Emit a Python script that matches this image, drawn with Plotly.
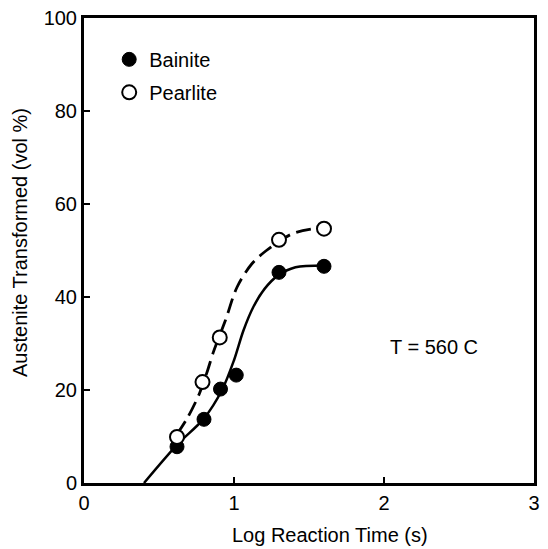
import plotly.graph_objects as go

# Measured data points
bainite_x = [0.62, 0.80, 0.91, 1.015, 1.30, 1.60]
bainite_y = [7.8, 13.7, 20.2, 23.2, 45.3, 46.6]
pearlite_x = [0.62, 0.79, 0.905, 1.30, 1.60]
pearlite_y = [9.9, 21.7, 31.3, 52.3, 54.7]

# Fitted curves
bainite_curve_x = [0.40, 0.62, 0.80, 0.92, 1.00, 1.063, 1.128, 1.205, 1.292, 1.41, 1.60]
bainite_curve_y = [0.0, 8.2, 13.9, 20.0, 26.4, 32.8, 37.8, 41.8, 44.6, 46.4, 46.8]
pearlite_curve_x = [0.62, 0.693, 0.769, 0.824, 0.863, 0.943, 1.02, 1.118, 1.216, 1.39, 1.60]
pearlite_curve_y = [10.5, 14.2, 19.2, 24.2, 28.2, 35.0, 42.1, 47.1, 50.0, 53.6, 55.0]

x_ticks = [0, 1, 2, 3]
y_ticks = [0, 20, 40, 60, 80, 100]

FONT = "Liberation Sans, Arial, sans-serif"

# page has an 8px body margin: figure coords = page coords - 8
W, H = 540, 541
L, R, T, B = 76, 14, 10, 66
PW, PH = W - L - R, H - T - B

fig = go.Figure()
fig.add_trace(go.Scatter(x=bainite_curve_x, y=bainite_curve_y, mode="lines",
                         line=dict(color="black", width=2.5, shape="spline", smoothing=0.9),
                         showlegend=False, hoverinfo="skip"))
fig.add_trace(go.Scatter(x=pearlite_curve_x, y=pearlite_curve_y, mode="lines",
                         line=dict(color="black", width=2.8, shape="spline", smoothing=0.9,
                                   dash="15px,7px"),
                         showlegend=False, hoverinfo="skip"))
fig.add_trace(go.Scatter(x=bainite_x, y=bainite_y, mode="markers", name="Bainite",
                         legendgroup="b",
                         marker=dict(symbol="circle", size=14, color="black",
                                     line=dict(color="black", width=1))))
fig.add_trace(go.Scatter(x=pearlite_x, y=pearlite_y, mode="markers", name="Pearlite",
                         legendgroup="p",
                         marker=dict(symbol="circle", size=14, color="white",
                                     line=dict(color="black", width=2))))

fig.add_annotation(x=2.33, y=29.2, xref="x", yref="y", text="T = 560 C",
                   showarrow=False, font=dict(family=FONT, size=20, color="black"))
fig.add_annotation(x=(330 - 8 - L) / PW, y=(H - B - (535 - 8)) / PH, xref="paper", yref="paper",
                   text="Log Reaction Time (s)", showarrow=False, yanchor="middle",
                   font=dict(family=FONT, size=20, color="black"))
fig.add_annotation(x=(20 - 8 - L) / PW, y=(H - B - (243 - 8)) / PH, xref="paper", yref="paper",
                   text="Austenite Transformed (vol %)", showarrow=False, textangle=-90,
                   xanchor="center", yanchor="middle",
                   font=dict(family=FONT, size=20, color="black"))

axis_common = dict(showline=True, linecolor="black", linewidth=3, mirror=True,
                   ticks="inside", ticklen=6, tickwidth=1.5, tickcolor="black",
                   showgrid=False, zeroline=False, ticklabeloverflow="allow",
                   automargin=False,
                   tickfont=dict(family=FONT, size=20, color="black"))
fig.update_xaxes(range=[0, 3], tickvals=x_ticks, ticktext=[str(v) for v in x_ticks], **axis_common)
fig.update_yaxes(range=[0, 100], tickvals=y_ticks, ticktext=[str(v) for v in y_ticks], **axis_common)

fig.update_layout(
    width=W, height=H,
    margin=dict(l=L, r=R, t=T, b=B, autoexpand=False),
    paper_bgcolor="white", plot_bgcolor="white",
    font=dict(family=FONT, size=20, color="black"),
    legend=dict(x=0.056, y=0.953, xanchor="left", yanchor="top",
                bgcolor="rgba(0,0,0,0)", tracegroupgap=4,
                font=dict(family=FONT, size=20, color="black")),
)

fig.write_html("out.html")
